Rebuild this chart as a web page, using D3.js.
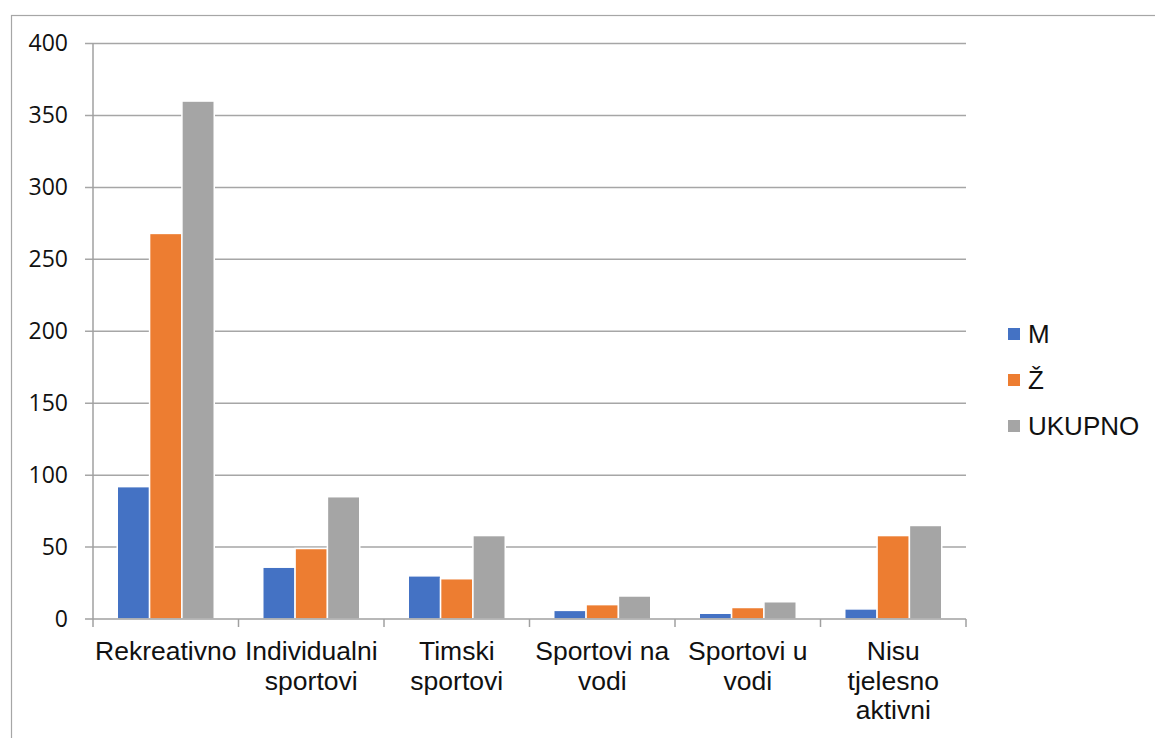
<!DOCTYPE html>
<html>
<head>
<meta charset="utf-8">
<script src="https://cdn.jsdelivr.net/npm/d3@7"></script>
<style>
  html, body { margin: 0; padding: 0; background: #fff; }
  svg { display: block; }
</style>
</head>
<body>
<div id="chart"></div>
<script>
// Data
const categories = [
  'Rekreativno',
  'Individualni\nsportovi',
  'Timski\nsportovi',
  'Sportovi na\nvodi',
  'Sportovi u\nvodi',
  'Nisu\ntjelesno\naktivni'
];
const seriesNames = ['M', 'Ž', 'UKUPNO'];
const valuesM = [92, 36, 30, 6, 4, 7];
const valuesZ = [268, 49, 28, 10, 8, 58];
const valuesUkupno = [360, 85, 58, 16, 12, 65];
const yTicks = [0, 50, 100, 150, 200, 250, 300, 350, 400];

const colors = ['#4472C4', '#ED7D31', '#A5A5A5'];
const seriesValues = [valuesM, valuesZ, valuesUkupno];

const width = 1155;
const height = 738;
const margin = {top: 43.5, right: 189, bottom: 119, left: 93};

const data = categories.map((c, i) => ({
  category: c,
  values: seriesNames.map((s, j) => ({key: s, value: seriesValues[j][i]}))
}));

const svg = d3.select('#chart')
  .append('svg')
  .attr('width', width)
  .attr('height', height)
  .attr('viewBox', `0,0,${width},${height}`);

// outer frame
svg.append('rect')
  .attr('x', 11.5)
  .attr('y', 15.5)
  .attr('width', 1300)
  .attr('height', 900)
  .attr('fill', 'none')
  .attr('stroke', '#a6a6a6')
  .attr('stroke-width', 1.2);

const x0 = d3.scaleBand()
  .domain(categories)
  .range([margin.left, width - margin.right])
  .paddingInner(0)
  .paddingOuter(0);

const x1 = d3.scaleBand()
  .domain(seriesNames)
  .range([0, x0.bandwidth()])
  .paddingInner(0)
  .paddingOuter(0.75);

const y = d3.scaleLinear()
  .domain([0, 400])
  .range([height - margin.bottom, margin.top]);

const plotRight = width - margin.right;

// gridlines (with outer tick part)
svg.append('g')
  .selectAll('line')
  .data(yTicks.filter(d => d !== 0))
  .join('line')
  .attr('x1', margin.left - 8)
  .attr('x2', plotRight)
  .attr('y1', d => y(d))
  .attr('y2', d => y(d))
  .attr('stroke', '#a6a6a6')
  .attr('stroke-width', 1.5);

// y labels
svg.append('g')
  .attr('transform', `translate(${margin.left},0)`)
  .call(d3.axisLeft(y).tickValues(yTicks).tickSize(0).tickPadding(25))
  .call(g => g.select('.domain').remove())
  .call(g => g.selectAll('text')
    .attr('font-family', '"Open Sans", sans-serif')
    .attr('font-size', 23)
    .attr('fill', '#111'));

// bars
svg.append('g')
  .selectAll('g')
  .data(data)
  .join('g')
  .attr('transform', d => `translate(${x0(d.category)},0)`)
  .selectAll('rect')
  .data(d => d.values)
  .join('rect')
  .attr('x', d => x1(d.key))
  .attr('width', x1.bandwidth())
  .attr('y', d => y(d.value))
  .attr('height', d => y(0) - y(d.value))
  .attr('fill', (d, i) => colors[i])
  .attr('stroke', '#fff')
  .attr('stroke-width', 1.5);

// y axis line
svg.append('line')
  .attr('x1', margin.left)
  .attr('x2', margin.left)
  .attr('y1', y(400))
  .attr('y2', y(0))
  .attr('stroke', '#a0a0a0')
  .attr('stroke-width', 1.5);

// x axis line and ticks at band edges
svg.append('line')
  .attr('x1', margin.left - 8)
  .attr('x2', plotRight)
  .attr('y1', y(0))
  .attr('y2', y(0))
  .attr('stroke', '#a0a0a0')
  .attr('stroke-width', 1.5);

const edges = categories.map(c => x0(c)).concat([plotRight]);
svg.append('g')
  .selectAll('line')
  .data(edges)
  .join('line')
  .attr('x1', d => d)
  .attr('x2', d => d)
  .attr('y1', y(0))
  .attr('y2', y(0) + 8)
  .attr('stroke', '#a0a0a0')
  .attr('stroke-width', 1.5);

// category labels
svg.append('g')
  .attr('transform', `translate(0,${y(0)})`)
  .call(d3.axisBottom(x0).tickSize(0).tickFormat(''))
  .call(g => g.select('.domain').remove())
  .call(g => g.selectAll('.tick text').remove())
  .call(g => g.selectAll('.tick')
    .append('text')
    .attr('text-anchor', 'middle')
    .attr('font-family', '"Liberation Sans", Arial, sans-serif')
    .attr('font-size', 26.5)
    .attr('fill', '#111')
    .selectAll('tspan')
    .data(d => d.split('\n'))
    .join('tspan')
    .attr('x', 0)
    .attr('y', (d, i) => 41 + i * 29.5)
    .text(d => d));

// legend
const legend = svg.append('g')
  .selectAll('g')
  .data(seriesNames)
  .join('g')
  .attr('transform', (d, i) => `translate(1008,${334 + i * 46})`);

legend.append('rect')
  .attr('x', 0)
  .attr('y', -6)
  .attr('width', 12)
  .attr('height', 12)
  .attr('fill', (d, i) => colors[i]);

legend.append('text')
  .attr('x', 20)
  .attr('y', 9)
  .attr('font-family', '"Liberation Sans", Arial, sans-serif')
  .attr('font-size', 26)
  .attr('fill', '#111')
  .text(d => d);
</script>
</body>
</html>
